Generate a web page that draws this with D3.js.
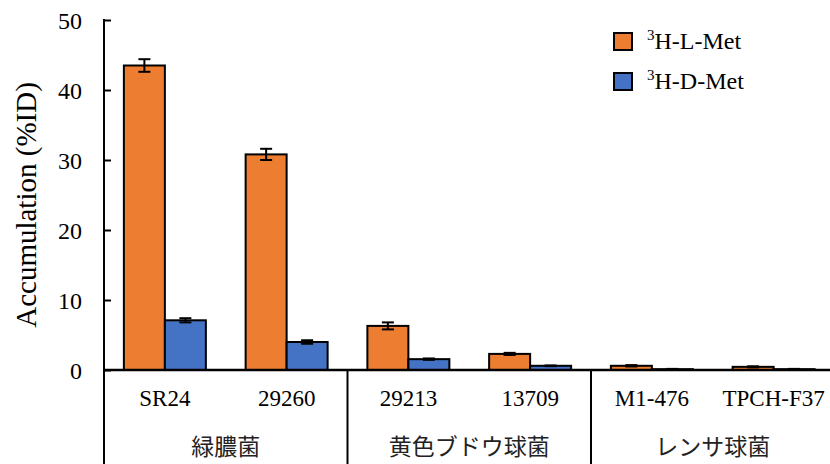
<!DOCTYPE html>
<html>
<head>
<meta charset="utf-8">
<script src="https://cdn.jsdelivr.net/npm/d3@7"></script>
<style>
  html, body { margin: 0; padding: 0; background: #fff; }
  svg { display: block; }
</style>
</head>
<body>
<svg id="chart" width="830" height="464"></svg>
<script>
// Strains, grouped by organism
const categories = ["SR24", "29260", "29213", "13709", "M1-476", "TPCH-F37"];
const groups = ["緑膿菌", "黄色ブドウ球菌", "レンサ球菌"];
const groupSize = [2, 2, 2];

// Accumulation (%ID) with error (SD)
const seriesNames = ["L", "D"];
const lMet = [43.5, 30.8, 6.3, 2.3, 0.6, 0.45];
const lMetErr = [0.9, 0.8, 0.5, 0.15, 0.1, 0.08];
const dMet = [7.1, 4.0, 1.55, 0.6, 0.12, 0.12];
const dMetErr = [0.3, 0.25, 0.1, 0.05, 0.04, 0.04];

const yTicks = [0, 10, 20, 30, 40, 50];

const colors = { L: "#ED7D31", D: "#4472C4" };
const serif = "'Liberation Serif', 'Times New Roman', Times, 'DejaVu Serif', serif";
const jpFont = "'Noto Sans CJK JP', 'Noto Sans CJK SC', sans-serif";

const svg = d3.select("#chart");
const plotLeft = 104, plotTop = 20, plotBase = 370, step = 121.75;

const x0 = d3.scaleBand().domain(categories)
  .range([plotLeft, plotLeft + step * categories.length]).padding(0);
const x1 = d3.scaleBand().domain(seriesNames)
  .range([0, x0.bandwidth()]).paddingInner(0).paddingOuter(0.485);
const y = d3.scaleLinear().domain([0, 50]).range([plotBase, plotTop]);

const rows = categories.map((c, i) => ({
  cat: c,
  vals: [
    { key: "L", v: lMet[i], e: lMetErr[i] },
    { key: "D", v: dMet[i], e: dMetErr[i] }
  ]
}));

// Bars
const g = svg.append("g");
const cg = g.selectAll("g.cat").data(rows).join("g")
  .attr("transform", d => `translate(${x0(d.cat)},0)`);

cg.selectAll("rect").data(d => d.vals).join("rect")
  .attr("x", d => x1(d.key))
  .attr("y", d => y(d.v))
  .attr("width", x1.bandwidth())
  .attr("height", d => y(0) - y(d.v))
  .attr("fill", d => colors[d.key])
  .attr("stroke", "#000")
  .attr("stroke-width", 2);

// Error bars
const eb = cg.selectAll("g.err").data(d => d.vals).join("g")
  .attr("transform", d => `translate(${x1(d.key) + x1.bandwidth() / 2},0)`)
  .attr("stroke", "#000").attr("stroke-width", 2);
eb.append("line").attr("x1", 0).attr("x2", 0)
  .attr("y1", d => y(d.v + d.e)).attr("y2", d => y(d.v - d.e));
eb.append("line").attr("x1", -6).attr("x2", 6)
  .attr("y1", d => y(d.v + d.e)).attr("y2", d => y(d.v + d.e));
eb.append("line").attr("x1", -6).attr("x2", 6)
  .attr("y1", d => y(d.v - d.e)).attr("y2", d => y(d.v - d.e));

// Y axis with inward ticks
const yAxis = svg.append("g").attr("transform", `translate(${plotLeft},0)`)
  .call(d3.axisRight(y).tickValues(yTicks).tickSize(7).tickFormat(d3.format("d")));
yAxis.attr("font-family", serif).attr("font-size", 24);
yAxis.select(".domain").remove();
yAxis.selectAll(".tick line").attr("stroke", "#000").attr("stroke-width", 2);
yAxis.selectAll(".tick text")
  .attr("x", -22).attr("text-anchor", "end").attr("dy", "0.34em")
  .attr("fill", "#000");

svg.append("line").attr("x1", plotLeft).attr("x2", plotLeft)
  .attr("y1", y(50) - 1).attr("y2", 464)
  .attr("stroke", "#000").attr("stroke-width", 2);

// X axis baseline
svg.append("line").attr("x1", plotLeft).attr("x2", 830)
  .attr("y1", y(0)).attr("y2", y(0))
  .attr("stroke", "#000").attr("stroke-width", 2.5);

// Category labels
svg.append("g").attr("font-family", serif).attr("font-size", 23)
  .selectAll("text").data(categories).join("text")
  .attr("x", d => x0(d) + x0.bandwidth() / 2)
  .attr("y", 406)
  .attr("text-anchor", "middle")
  .text(d => d);

// Group separators and labels
let idx = 0;
const spans = groups.map((name, i) => {
  const s = idx; idx += groupSize[i];
  return { name, x0: x0(categories[s]), x1: x0(categories[idx - 1]) + x0.bandwidth() };
});
svg.append("g").selectAll("line").data(spans.slice(0, -1)).join("line")
  .attr("x1", d => d.x1).attr("x2", d => d.x1)
  .attr("y1", y(0)).attr("y2", 464)
  .attr("stroke", "#000").attr("stroke-width", 2);
svg.append("g").attr("font-family", jpFont).attr("font-size", 23)
  .selectAll("text").data(spans).join("text")
  .attr("x", d => (d.x0 + d.x1) / 2)
  .attr("y", 455)
  .attr("text-anchor", "middle")
  .attr("fill", "#222")
  .text(d => d.name);

// Y axis title
svg.append("text")
  .attr("font-family", serif).attr("font-size", 29)
  .attr("transform", `translate(36,${(y(50) + y(0)) / 2 + 10}) rotate(-90)`)
  .attr("text-anchor", "middle")
  .text("Accumulation (%ID)");

// Legend
const legendItems = [
  { key: "L", label: "H-L-Met" },
  { key: "D", label: "H-D-Met" }
];
const lg = svg.append("g").attr("font-family", serif)
  .selectAll("g").data(legendItems).join("g")
  .attr("transform", (d, i) => `translate(614,${33 + i * 40})`);
lg.append("rect").attr("width", 18).attr("height", 17)
  .attr("fill", d => colors[d.key]).attr("stroke", "#000").attr("stroke-width", 2);
const lt = lg.append("text").attr("x", 33).attr("y", 16).attr("font-size", 24);
lt.append("tspan").attr("dy", -9).attr("font-size", 15).text("3");
lt.append("tspan").attr("dy", 9).text(d => d.label);
</script>
</body>
</html>
